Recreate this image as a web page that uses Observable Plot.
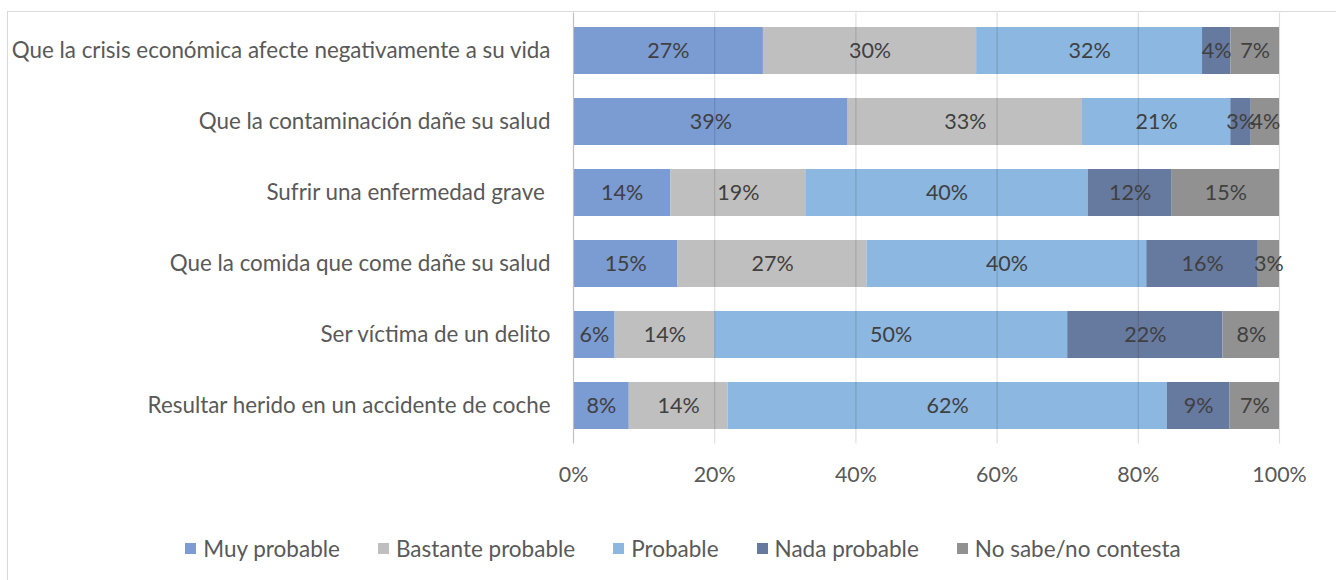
<!DOCTYPE html>
<html><head><meta charset="utf-8">
<script src="https://cdn.jsdelivr.net/npm/d3@7"></script>
<script src="https://cdn.jsdelivr.net/npm/@observablehq/plot@0.6"></script>
<style>
html,body{margin:0;padding:0;background:#fff;}
#wrap{position:absolute;left:0;top:0;width:1336px;height:580px;overflow:hidden;font-family:Lato,"Noto Sans",sans-serif;}
#frame{position:absolute;left:7px;top:11px;width:1360px;height:600px;border:1px solid #d9d9d9;box-sizing:border-box;}
#chart{position:absolute;left:0;top:0;}
#legend{position:absolute;left:0;top:535px;width:1366px;display:flex;justify-content:center;align-items:center;gap:38px;font-size:22.5px;color:#595959;}
#legend .item{display:flex;align-items:center;gap:7px;}
#legend .sw{width:11px;height:11px;display:inline-block;}
</style>
</head><body>
<div id="wrap"><div id="frame"></div><div id="chart"></div><div id="legend"></div></div>
<script>
const categories = [
  "Que la crisis económica afecte negativamente a su vida",
  "Que la contaminación dañe su salud",
  "Sufrir una enfermedad grave ",
  "Que la comida que come dañe su salud",
  "Ser víctima de un delito",
  "Resultar herido en un accidente de coche"
];
const series = ["Muy probable", "Bastante probable", "Probable", "Nada probable", "No sabe/no contesta"];
const colors = ["#7B9BD3", "#BFBFBF", "#8BB7E1", "#66799F", "#919191"];
const muyProbable      = [26.9, 38.9, 13.8, 14.8, 5.9, 7.9];
const bastanteProbable = [30.2, 33.2, 19.1, 26.8, 14.1, 14.0];
const probable         = [32.0, 21.0, 40.0, 39.6, 50.0, 62.2];
const nadaProbable     = [4.0, 2.9, 11.9, 15.8, 22.0, 8.9];
const noSabe           = [6.9, 4.0, 15.2, 3.0, 8.0, 7.0];
const xTicks = [0, 20, 40, 60, 80, 100];

const seriesValues = [muyProbable, bastanteProbable, probable, nadaProbable, noSabe];
const data = [];
categories.forEach((c, i) => {
  series.forEach((s, j) => data.push({category: c, series: s, value: seriesValues[j][i]}));
});

const chart = Plot.plot({
  width: 1336,
  height: 500,
  marginLeft: 573,
  marginRight: 57,
  marginTop: 12.6,
  marginBottom: 56.6,
  style: {fontFamily: "Lato, 'Noto Sans', sans-serif", background: "transparent"},
  x: {domain: [0, 100], axis: null},
  y: {domain: categories, paddingInner: 0.345, paddingOuter: 0.1725, axis: null},
  color: {domain: series, range: colors},
  marks: [
    Plot.barX(data, Plot.stackX({x: "value", y: "category", fill: "series", order: series})),
    Plot.ruleX(xTicks.slice(1), {stroke: "#000", strokeOpacity: 0.13, strokeWidth: 1.2}),
    Plot.ruleX([0], {stroke: "#bfbfbf", strokeWidth: 1.2}),
    Plot.text(data, Plot.stackX({x: "value", y: "category", z: "series", order: series,
      text: d => Math.round(d.value) + "%", fill: "#404040", fontSize: 21.5})),
    Plot.axisX(xTicks, {tickSize: 0, tickPadding: 23, fontSize: 21.4, fill: "#595959",
      tickFormat: d => d + "%", label: null}),
    Plot.axisY({tickSize: 0, tickPadding: 23, fontSize: 22.4, fill: "#595959", label: null})
  ]
});
document.getElementById("chart").appendChild(chart);

const legend = document.getElementById("legend");
series.forEach((s, i) => {
  const it = document.createElement("span");
  it.className = "item";
  const sw = document.createElement("span");
  sw.className = "sw";
  sw.style.background = colors[i];
  const t = document.createElement("span");
  t.textContent = s;
  it.appendChild(sw); it.appendChild(t);
  legend.appendChild(it);
});
</script>
</body></html>
